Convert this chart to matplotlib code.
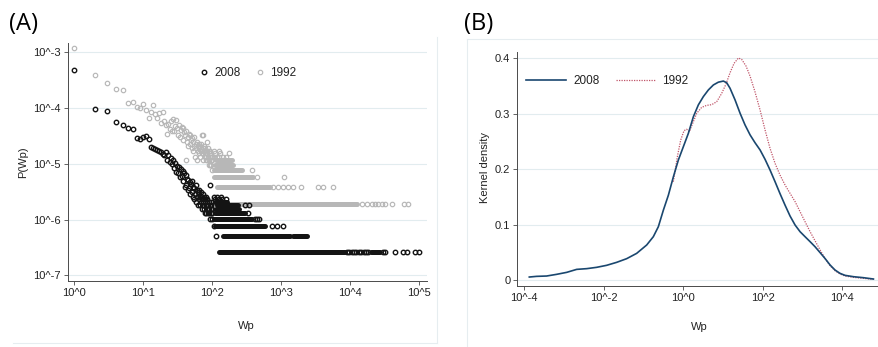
import numpy as np
import matplotlib
matplotlib.use("Agg")
import matplotlib.pyplot as plt
from matplotlib.lines import Line2D

plt.rcParams['font.family'] = ['Liberation Sans', 'DejaVu Sans']

# ------------ Panel A data: frequency of Wp (counts / total) -------------
N_2008 = 3.86e6
N_1992 = 5.2e5

# counts for Wp = 1, 2, ..., 100
counts_2008 = [1834, 367, 338, 217, 189, 169, 160, 112, 106, 115,
               122, 106, 76, 73, 70, 69, 66, 64, 58, 56,
               62, 46, 55, 41, 50, 38, 45, 32, 40, 28,
               36, 26, 34, 22, 31, 23, 29, 19, 26, 15,
               24, 16, 21, 13, 20, 14, 18, 11, 17, 12,
               19, 10, 15, 9, 14, 11, 16, 8, 13, 10,
               12, 7, 11, 9, 13, 7, 10, 8, 12, 6,
               9, 7, 11, 8, 10, 6, 9, 5, 8, 7,
               10, 5, 8, 6, 9, 5, 7, 6, 8, 5,
               7, 4, 16, 6, 8, 5, 7, 4, 6, 5]

counts_1992 = [621, 201, 145, 114, 109, 65, 67, 55, 52, 61,
               48, 35, 45, 59, 40, 34, 43, 28, 45, 30,
               26, 18, 27, 22, 31, 20, 33, 20, 25, 32,
               23, 17, 26, 16, 21, 24, 14, 23, 19, 17,
               6, 20, 13, 16, 11, 18, 17, 12, 14, 15,
               10, 13, 9, 16, 11, 7, 12, 10, 6, 13,
               9, 11, 8, 12, 10, 11, 7, 9, 12, 17,
               8, 10, 6, 17, 9, 11, 7, 10, 8, 6,
               9, 7, 13, 8, 6, 10, 7, 5, 9, 6,
               8, 9, 5, 7, 6, 8, 5, 7, 4, 6]

# Wp > 100: long runs of consecutive values sharing the same count
runs_2008_lo = [126, 20000, 142, 1490, 110, 104, 110, 112, 118, 108]
runs_2008_hi = [8400, 27000, 1340, 2380, 580, 380, 300, 245, 235, 165]
runs_2008_cnt = [1, 1, 2, 2, 3, 4, 5, 6, 7, 8]

runs_1992_lo = [110, 116, 105, 105, 108, 112]
runs_1992_hi = [12300, 685, 390, 265, 200, 190]
runs_1992_cnt = [1, 2, 3, 4, 5, 6]

# Wp > 100: isolated values
extra_2008_wp = [8900, 9600, 10400, 11300, 12200, 13200, 14300, 15500, 16800, 18200,
                 30000, 32000, 44000, 58000, 66000, 87000, 100000,
                 113, 105, 730, 860, 1060, 410, 440, 470, 330, 300, 340,
                 110, 125, 140, 160, 104, 118, 132]
extra_2008_cnt = [1, 1, 1, 1, 1, 1, 1, 1, 1, 1,
                  1, 1, 1, 1, 1, 1, 1,
                  2, 3, 3, 3, 3, 4, 4, 4, 5, 7, 7,
                  9, 9, 9, 9, 10, 10, 10]

extra_1992_wp = [14600, 17300, 20400, 22800, 25500, 28500, 31800, 39800, 60600, 69300,
                 765, 895, 1060, 1250, 1490, 1910, 3440, 3980, 5560,
                 440, 1080, 380, 104, 118, 126, 141, 160, 110, 131, 172, 106, 123]
extra_1992_cnt = [1, 1, 1, 1, 1, 1, 1, 1, 1, 1,
                  2, 2, 2, 2, 2, 2, 2, 2, 2,
                  3, 3, 4, 7, 7, 7, 7, 7, 8, 8, 8, 9, 9]

# ------------ Panel B data: kernel density over log10(Wp) -------------
kd_x_2008 = [-3.874, -3.69, -3.44, -3.19, -2.935, -2.683, -2.43, -2.18, -1.93, -1.677,
             -1.426, -1.174, -0.922, -0.755, -0.629, -0.503, -0.377, -0.252, -0.126, 0.0,
             0.126, 0.252, 0.377, 0.503, 0.629, 0.755, 0.88, 1.006, 1.09, 1.174,
             1.30, 1.426, 1.55, 1.677, 1.80, 1.93, 2.055, 2.18, 2.306, 2.43,
             2.558, 2.683, 2.81, 2.935, 3.06, 3.187, 3.31, 3.44, 3.56, 3.69,
             3.815, 3.94, 4.067, 4.277, 4.528, 4.78]
kd_y_2008 = [0.0054, 0.0066, 0.0072, 0.0102, 0.0138, 0.0192, 0.0205, 0.0229, 0.0265, 0.0319,
             0.0385, 0.0481, 0.0632, 0.0782, 0.0962, 0.126, 0.153, 0.186, 0.2165, 0.2406,
             0.2647, 0.2947, 0.316, 0.331, 0.343, 0.352, 0.357, 0.359, 0.356, 0.346,
             0.325, 0.301, 0.280, 0.262, 0.248, 0.2346, 0.2177, 0.1985, 0.1774, 0.156,
             0.135, 0.1155, 0.0992, 0.0872, 0.0782, 0.0692, 0.0602, 0.0493, 0.0391, 0.0271,
             0.018, 0.012, 0.0084, 0.006, 0.0042, 0.0018]

kd_x_1992 = [-0.252, -0.151, -0.067, 0.017, 0.084, 0.151, 0.235, 0.335, 0.461, 0.587,
             0.713, 0.839, 0.964, 1.073, 1.174, 1.275, 1.384, 1.468, 1.577, 1.677,
             1.80, 1.929, 2.055, 2.18, 2.306, 2.43, 2.558, 2.683, 2.81, 2.935,
             3.06, 3.187, 3.31, 3.44, 3.56, 3.69, 3.815, 3.94, 4.067, 4.277,
             4.528, 4.78]
kd_y_1992 = [0.1774, 0.2226, 0.2526, 0.2695, 0.272, 0.2677, 0.2827, 0.3008, 0.3116, 0.3152,
             0.3164, 0.3218, 0.3368, 0.3537, 0.3741, 0.391, 0.4006, 0.398, 0.386, 0.368,
             0.340, 0.3068, 0.2707, 0.2376, 0.2105, 0.1895, 0.1714, 0.1564, 0.1414, 0.1233,
             0.1053, 0.0872, 0.071, 0.0541, 0.0391, 0.0259, 0.0168, 0.0108, 0.0072, 0.0048,
             0.003, 0.0012]

# ------------ Styles ---------------
BLACK = "#141414"
GREY = "#b7b7b7"
NAVY = "#1a476f"
RED = "#c0566a"
GRID = "#e2ecef"
SPINE = "#4a4a4a"
TXT = "#222222"
FS = 8

W, H = 879, 347
fig = plt.figure(figsize=(W / 100, H / 100), dpi=100)


def style_axes(ax):
    for s in ["top", "right"]:
        ax.spines[s].set_visible(False)
    for s in ["left", "bottom"]:
        ax.spines[s].set_color(SPINE)
        ax.spines[s].set_linewidth(0.7)
    ax.tick_params(axis="both", which="major", length=3, width=0.6, color=SPINE,
                   labelsize=FS, labelcolor=TXT, pad=2)
    ax.tick_params(axis="both", which="minor", length=0)
    ax.yaxis.grid(True, color=GRID, lw=0.8)
    ax.set_axisbelow(True)


# ---------------- Panel A ----------------
axA = fig.add_axes([67.7 / W, 1 - 281 / H, (427 - 67.7) / W, (281 - 43) / H])
style_axes(axA)
axA.set_xscale("log")
axA.set_yscale("log")

wp_1992 = np.arange(1, len(counts_1992) + 1)
wp_2008 = np.arange(1, len(counts_2008) + 1)
MS = 3.2
RUN_LW = 3.6

for lo, hi, c in zip(runs_1992_lo, runs_1992_hi, runs_1992_cnt):
    axA.plot([lo, hi], [c / N_1992] * 2, color=GREY, lw=RUN_LW, solid_capstyle="round", zorder=2)
axA.plot(wp_1992, np.array(counts_1992) / N_1992, "o", ms=MS, mfc="none", mec=GREY, mew=0.85, zorder=2)
axA.plot(extra_1992_wp, np.array(extra_1992_cnt) / N_1992, "o", ms=MS, mfc="none", mec=GREY, mew=0.85, zorder=2)

for lo, hi, c in zip(runs_2008_lo, runs_2008_hi, runs_2008_cnt):
    axA.plot([lo, hi], [c / N_2008] * 2, color=BLACK, lw=RUN_LW, solid_capstyle="round", zorder=3)
axA.plot(wp_2008, np.array(counts_2008) / N_2008, "o", ms=MS, mfc="none", mec=BLACK, mew=1.0, zorder=3)
axA.plot(extra_2008_wp, np.array(extra_2008_cnt) / N_2008, "o", ms=MS, mfc="none", mec=BLACK, mew=1.0, zorder=3)

axA.set_xlim(10 ** -0.096, 10 ** 5.11)
axA.set_ylim(10 ** -7.10, 10 ** -2.833)
axA.set_xticks([10.0 ** k for k in range(0, 6)])
axA.set_xticklabels([f"10^{k}" for k in range(0, 6)])
axA.set_yticks([10.0 ** -k for k in range(3, 8)])
axA.set_yticklabels([f"10^-{k}" for k in range(3, 8)])
axA.minorticks_off()
axA.set_ylabel("P(Wp)", fontsize=FS, color=TXT)
axA.yaxis.set_label_coords(-0.11, 0.5)
axA.set_xlabel("Wp", fontsize=FS, color=TXT, va="top")
axA.xaxis.set_label_coords(0.498, -0.17)

hA = [Line2D([], [], ls="none", marker="o", ms=MS, mfc="none", mec=BLACK, mew=1.0),
      Line2D([], [], ls="none", marker="o", ms=MS, mfc="none", mec=GREY, mew=0.85)]
axA.legend(hA, ["2008", "1992"], ncol=2, frameon=False, loc="center",
           bbox_to_anchor=(0.5, 0.875), fontsize=8.5, handlelength=1.0,
           handletextpad=0.35, columnspacing=1.2, borderpad=0, labelcolor=TXT)

# ---------------- Panel B ----------------
axB = fig.add_axes([517.3 / W, 1 - 286 / H, (W - 517.3) / W, (286 - 51.7) / H])
style_axes(axB)
axB.set_xscale("log")
axB.plot(10 ** np.array(kd_x_1992), kd_y_1992, color=RED, lw=0.9, ls=(0, (1, 1)), zorder=3)
axB.plot(10 ** np.array(kd_x_2008), kd_y_2008, color=NAVY, lw=1.2, zorder=4)
axB.set_xlim(10 ** -4.176, 10 ** 4.92)
axB.set_ylim(-0.0108, 0.412)
axB.set_xticks([10.0 ** k for k in range(-4, 5, 2)])
axB.set_xticklabels([f"10^{k}" for k in range(-4, 5, 2)])
axB.minorticks_off()
axB.set_yticks([0, 0.1, 0.2, 0.3, 0.4])
axB.set_yticklabels(["0", "0.1", "0.2", "0.3", "0.4"])
axB.set_ylabel("Kernel density", fontsize=FS, color=TXT)
axB.yaxis.set_label_coords(-0.075, 0.504)
axB.set_xlabel("Wp", fontsize=FS, color=TXT, va="top")
axB.xaxis.set_label_coords(0.503, -0.154)

hB = [Line2D([], [], color=NAVY, lw=1.2),
      Line2D([], [], color=RED, lw=0.9, ls=(0, (1, 1)))]
axB.legend(hB, ["2008", "1992"], ncol=2, frameon=False, loc="center left",
           bbox_to_anchor=(0.025, 0.876), fontsize=8.5, handlelength=3.4,
           handletextpad=0.55, columnspacing=1.4, borderpad=0, borderaxespad=0,
           labelcolor=TXT)

# ---------------- panel labels and frames ----------------
fig.text(9 / W, 1 - 24 / H, "(A)", fontsize=17, family="Open Sans", va="center", ha="left")
fig.text(464 / W, 1 - 24 / H, "(B)", fontsize=17, family="Open Sans", va="center", ha="left")

FRAME = "#e6edf0"
fig.add_artist(Line2D([13 / W, 436.7 / W], [1 - 343.3 / H] * 2, color=FRAME, lw=0.8))
fig.add_artist(Line2D([436.7 / W] * 2, [1 - 36.7 / H, 1 - 343.3 / H], color=FRAME, lw=0.8))
fig.add_artist(Line2D([467.3 / W, 1.0], [1 - 39.3 / H] * 2, color=FRAME, lw=0.8))
fig.add_artist(Line2D([467.3 / W] * 2, [1 - 39.3 / H, 0.0], color=FRAME, lw=0.8))

fig.savefig("out.png", dpi=100)
